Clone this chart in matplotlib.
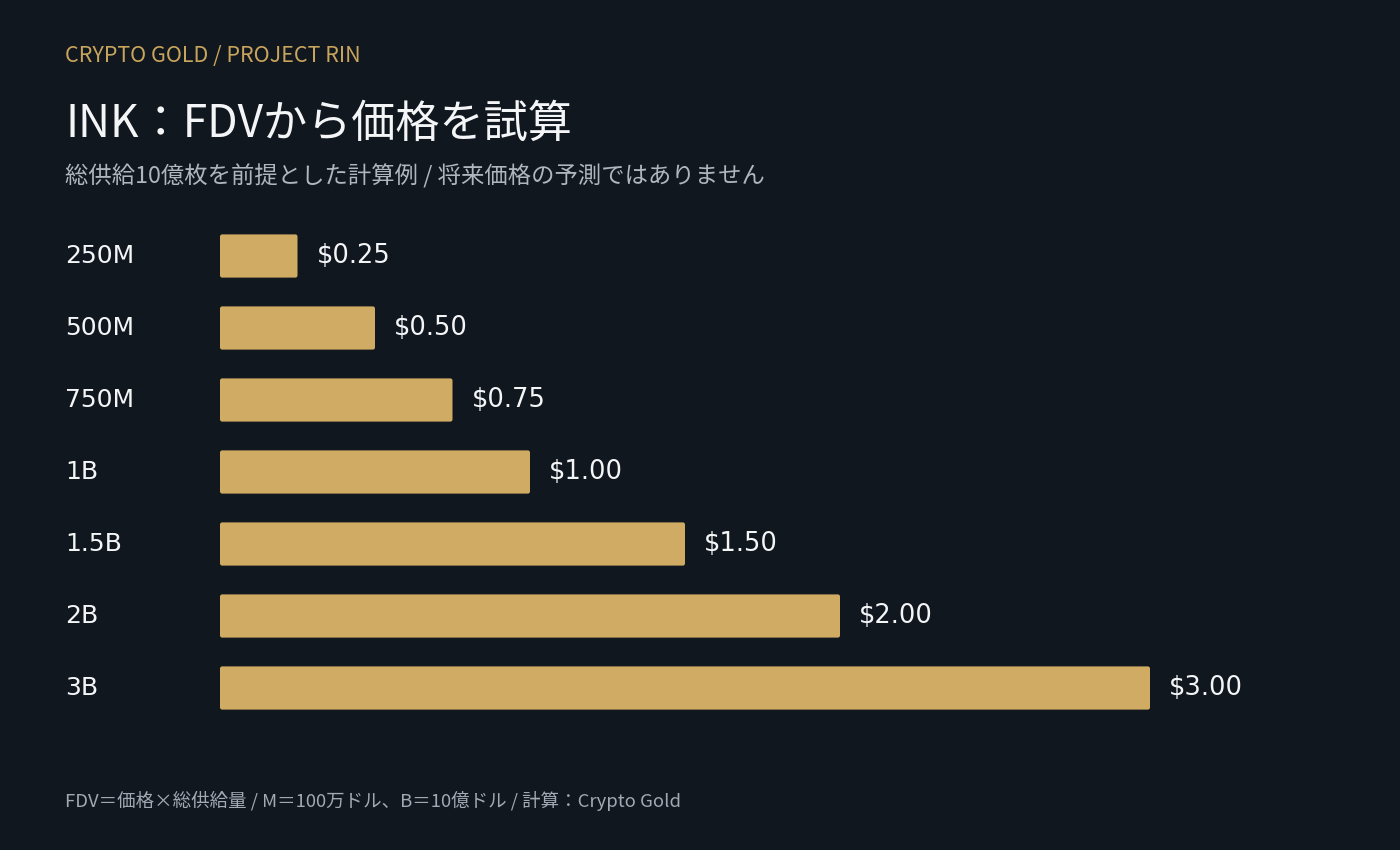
import matplotlib
matplotlib.use("Agg")
import matplotlib.pyplot as plt
import matplotlib.transforms as mtransforms
from matplotlib.patches import FancyBboxPatch

categories = ["250M", "500M", "750M", "1B", "1.5B", "2B", "3B"]
prices = [0.25, 0.50, 0.75, 1.00, 1.50, 2.00, 3.00]
value_labels = ["$0.25", "$0.50", "$0.75", "$1.00", "$1.50", "$2.00", "$3.00"]

header = "CRYPTO GOLD / PROJECT RIN"
title = "INK：FDVから価格を試算"
subtitle = "総供給10億枚を前提とした計算例 / 将来価格の予測ではありません"
footer = "FDV＝価格×総供給量 / M＝100万ドル、B＝10億ドル / 計算：Crypto Gold"

BG = "#10171f"
BAR = "#cfab63"
GOLD = "#c8a45c"
WHITE = "#f4f5f7"
SUB = "#b0b6be"
FOOT = "#a3a9b2"
JP = ["Noto Sans CJK JP", "DejaVu Sans"]

W, H = 1400, 850
fig = plt.figure(figsize=(W / 100, H / 100), dpi=100, facecolor=BG)

# axes: x=0 at 220px, 310 px per unit; rows 72 px apart, first centre at 256px
left_px, top_px, bottom_px = 220, 220, 724
xmax = 3.5
ax = fig.add_axes([left_px / W, 1 - bottom_px / H, xmax * 310 / W, (bottom_px - top_px) / H])
ax.set_facecolor(BG)
ax.set_xlim(0, xmax)
ax.set_ylim(len(categories) - 0.5, -0.5)
ax.axis("off")

ypos = list(range(len(categories)))
bars = ax.barh(ypos, prices, height=0.6, color=BAR)
asp = (1 / 72) / (1 / 310)
for r in bars.patches:
    r.set_visible(False)
    fb = FancyBboxPatch((r.get_x(), r.get_y()), r.get_width(), r.get_height(),
                        boxstyle="round,pad=0,rounding_size=0.007",
                        mutation_aspect=asp, facecolor=BAR, edgecolor="none")
    ax.add_patch(fb)

trans_lab = mtransforms.blended_transform_factory(fig.transFigure, ax.transData)
for y, cat, p, vl in zip(ypos, categories, prices, value_labels):
    ax.annotate(cat, xy=(65 / W, y), xycoords=trans_lab, xytext=(0, -6.5),
                textcoords="offset pixels", fontsize=18, color=WHITE,
                family="DejaVu Sans", va="baseline", ha="left")
    ax.annotate(vl, xy=(p, y), xycoords="data", xytext=(19, -6.5),
                textcoords="offset pixels", fontsize=18.5, color=WHITE,
                family="DejaVu Sans", va="baseline", ha="left")

fig.text(65 / W, 1 - 62 / H, header, fontsize=15.5, color=GOLD, family=JP, va="baseline")
fig.text(65 / W, 1 - 137 / H, title, fontsize=31.8, color=WHITE, family=JP, va="baseline")
fig.text(65 / W, 1 - 183 / H, subtitle, fontsize=16.8, color=SUB, family=JP, va="baseline")
fig.text(65 / W, 1 - 807 / H, footer, fontsize=13.3, color=FOOT, family=JP, va="baseline")

fig.savefig("out.png", dpi=100, facecolor=BG)
